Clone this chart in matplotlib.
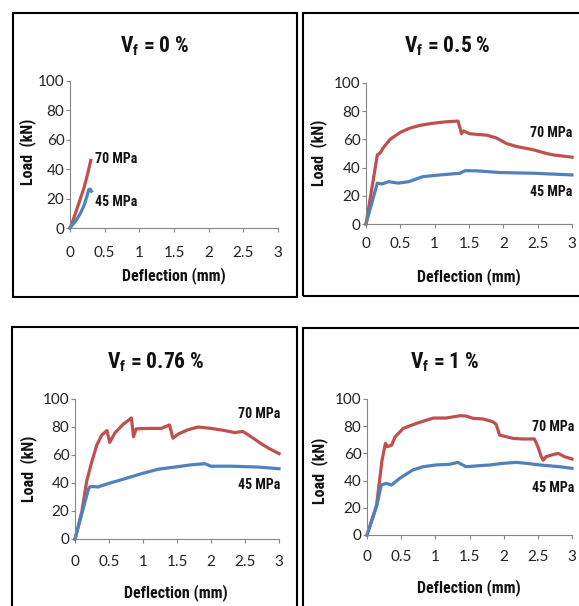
import matplotlib
matplotlib.use('Agg')
import matplotlib.pyplot as plt
from matplotlib.patches import Rectangle

# Vf = 0 %
defl_0_70 = [0, 0.05, 0.10, 0.15, 0.20, 0.25, 0.30]
load_0_70 = [0, 6, 13, 20, 27, 36, 46]
defl_0_45 = [0, 0.05, 0.10, 0.15, 0.20, 0.24, 0.27, 0.29, 0.31]
load_0_45 = [0, 3, 6, 10, 15, 21, 26, 26.5, 25]

# Vf = 0.5 %
defl_05_70 = [0, 0.165, 0.21, 0.25, 0.35, 0.5, 0.64, 0.79, 0.98, 1.17, 1.34, 1.37, 1.39, 1.42,
              1.51, 1.76, 1.9, 2.05, 2.19, 2.44, 2.63, 2.73, 3.0]
load_05_70 = [0, 49, 50.5, 54, 60, 65, 68, 70, 71.5, 72.5, 73, 68, 64, 66,
              64, 63, 61, 57, 55, 52.6, 50, 49, 47.4]
defl_05_45 = [0, 0.165, 0.23, 0.33, 0.47, 0.62, 0.83, 1.08, 1.37, 1.44, 1.61, 1.95, 2.44, 3.0]
load_05_45 = [0, 29, 28.4, 30, 29, 30, 33.6, 34.8, 36, 37.8, 37.7, 36.5, 36, 34.8]

# Vf = 0.76 %
defl_076_70 = [0, 0.10, 0.17, 0.24, 0.32, 0.39, 0.47, 0.51, 0.59, 0.71, 0.83, 0.86, 0.90, 1.08,
               1.27, 1.39, 1.44, 1.52, 1.66, 1.81, 2.0, 2.2, 2.35, 2.47, 2.6, 2.74, 2.86, 3.0]
load_076_70 = [0, 19.4, 40.8, 54, 67, 74, 77.5, 69, 76, 82, 86.5, 73, 78.7, 79,
               79, 81.5, 72, 75, 78, 80, 79, 77.5, 76, 76.8, 72.7, 68, 64.5, 61]
defl_076_45 = [0, 0.10, 0.20, 0.23, 0.34, 0.49, 0.73, 0.98, 1.22, 1.47, 1.71, 1.91, 2.0, 2.3, 2.69, 3.0]
load_076_45 = [0, 18, 36, 37.5, 37.2, 39.6, 43, 46.7, 49.8, 51.4, 53, 53.8, 52, 52, 51.4, 50.2]

# Vf = 1 %
defl_1_70 = [0, 0.14, 0.22, 0.27, 0.30, 0.36, 0.41, 0.53, 0.72, 0.97, 1.16, 1.36, 1.45, 1.55,
             1.7, 1.84, 1.89, 1.94, 2.14, 2.28, 2.45, 2.5, 2.55, 2.58, 2.62, 2.7, 2.8, 2.89, 3.0]
load_1_70 = [0, 22, 55, 67.4, 65, 66, 72, 78.4, 82, 86, 86, 87.7, 87.5, 85.8,
             85.3, 83.3, 81.4, 73.5, 71, 70.6, 70.6, 65, 57.6, 55, 57.6, 58.8, 60, 57.6, 55.9]
defl_1_45 = [0, 0.14, 0.21, 0.28, 0.36, 0.48, 0.67, 0.82, 1.01, 1.21, 1.33, 1.45, 1.65, 1.8,
             1.99, 2.19, 2.33, 2.53, 2.82, 3.0]
load_1_45 = [0, 21, 36.8, 38, 36.8, 41.7, 47.8, 50.2, 51.5, 52, 53.4, 50.2, 51, 51.5,
             52.7, 53.4, 52.7, 51.5, 50.2, 49]

panel_titles = ['0', '0.5', '0.76', '1']
series_labels = ['70 MPa', '45 MPa']

W, H = 579, 606
RED = '#C0504D'
BLUE = '#4F81BD'
GREY = '#868686'
plt.rcParams['font.family'] = ['Lato', 'DejaVu Sans']
BOLD = ['Roboto Condensed', 'Lato', 'DejaVu Sans']
plt.rcParams['mathtext.fontset'] = 'custom'
plt.rcParams['mathtext.rm'] = 'Roboto Condensed:bold'


def fx(px):
    return px / W


def fy(py):
    return 1 - py / H


fig = plt.figure(figsize=(W / 100, H / 100), dpi=100)

# pixel layout: axes box, title, xlabel, ylabel, frame, x tick pad, annotations
panels = [
    dict(ax=(70, 81, 278, 228), title=(155, 46), xl=(174, 276), yl=(28, 152),
         frame=(13, 13, 297, 297), pad=10,
         red=(defl_0_70, load_0_70), blue=(defl_0_45, load_0_45),
         ann=((0.36, 47, 'left'), (0.36, 17.7, 'left'))),
    dict(ax=(366, 83, 572, 224), title=(447, 46), xl=(469, 277), yl=(319, 153),
         frame=(303, 13, 610, 296), pad=6.5,
         red=(defl_05_70, load_05_70), blue=(defl_05_45, load_05_45),
         ann=((3.0, 64.5, 'right'), (3.0, 22.7, 'right'))),
    dict(ax=(75, 399, 279, 539), title=(156, 362), xl=(176, 593), yl=(29, 469),
         frame=(12, 327, 297, 630), pad=8.5,
         red=(defl_076_70, load_076_70), blue=(defl_076_45, load_076_45),
         ann=((3.02, 89, 'right'), (3.02, 38.6, 'right'))),
    dict(ax=(367, 399, 572, 535), title=(445, 362), xl=(469, 588), yl=(320, 471),
         frame=(303, 328, 610, 630), pad=8,
         red=(defl_1_70, load_1_70), blue=(defl_1_45, load_1_45),
         ann=((3.03, 79.4, 'right'), (3.03, 34.5, 'right'))),
]

for p, vf in zip(panels, panel_titles):
    x0, y0, x1, y1 = p['ax']
    ax = fig.add_axes([fx(x0), fy(y1), (x1 - x0) / W, (y1 - y0) / H])
    ax.plot(*p['red'], color=RED, lw=2.3, solid_joinstyle='round', clip_on=False)
    ax.plot(*p['blue'], color=BLUE, lw=2.3, solid_joinstyle='round', clip_on=False)
    ax.set_xlim(0, 3)
    ax.set_ylim(0, 100)
    ax.set_xticks([0, 0.5, 1, 1.5, 2, 2.5, 3])
    ax.set_xticklabels(['0', '0.5', '1', '1.5', '2', '2.5', '3'])
    ax.set_yticks([0, 20, 40, 60, 80, 100])
    for s in ['top', 'right']:
        ax.spines[s].set_visible(False)
    for s in ['left', 'bottom']:
        ax.spines[s].set_color(GREY)
        ax.spines[s].set_linewidth(0.8)
    ax.tick_params(axis='x', direction='out', length=3, width=0.8, color=GREY,
                   labelsize=11, labelcolor='#222222', pad=p['pad'])
    ax.tick_params(axis='y', direction='out', length=3, width=0.8, color=GREY,
                   labelsize=11, labelcolor='#222222', pad=1)
    ax.patch.set_alpha(0)

    (ax_r, ay_r, ha_r), (ax_b, ay_b, ha_b) = p['ann']
    ax.text(ax_r, ay_r, series_labels[0], ha=ha_r, va='center', fontsize=10,
            fontweight='bold', family=BOLD, color='#111111', clip_on=False)
    ax.text(ax_b, ay_b, series_labels[1], ha=ha_b, va='center', fontsize=10,
            fontweight='bold', family=BOLD, color='#111111', clip_on=False)

    tx, ty = p['title']
    fig.text(fx(tx), fy(ty), r'V$_{\mathrm{f}}$ = ' + vf + ' %', ha='center', va='center',
             fontsize=15.5, fontweight='bold', family=BOLD, color='#111111')
    lx, ly = p['xl']
    fig.text(fx(lx), fy(ly), 'Deflection (mm)', ha='center', va='center',
             fontsize=11.5, fontweight='bold', family=BOLD, color='#111111')
    lx, ly = p['yl']
    fig.text(fx(lx), fy(ly), 'Load  (kN)', ha='center', va='center', rotation=90,
             fontsize=11.5, fontweight='bold', family=BOLD, color='#111111')

    bx0, by0, bx1, by1 = p['frame']
    fig.add_artist(Rectangle((fx(bx0), fy(by1)), (bx1 - bx0) / W, (by1 - by0) / H,
                             transform=fig.transFigure, fill=False,
                             edgecolor='black', lw=1.5))

fig.savefig('out.png', dpi=100)
